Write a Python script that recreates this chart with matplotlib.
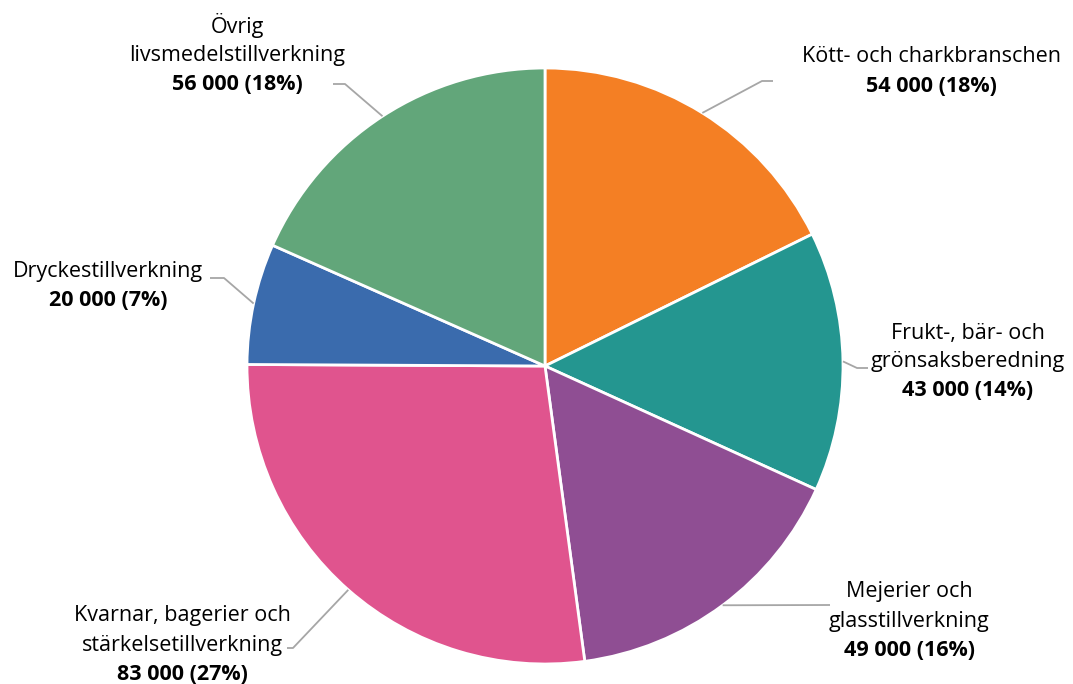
import numpy as np
import matplotlib.pyplot as plt

plt.rcParams['font.family'] = ['Open Sans', 'DejaVu Sans']

branscher = ['Kött- och charkbranschen', 'Frukt-, bär- och\ngrönsaksberedning',
             'Mejerier och\nglasstillverkning', 'Kvarnar, bagerier och\nstärkelsetillverkning',
             'Dryckestillverkning', 'Övrig\nlivsmedelstillverkning']
antal = [54000, 43000, 49000, 83000, 20000, 56000]
farger = ['#F47F24', '#249690', '#8F4E93', '#E0548E', '#3A6BAD', '#62A67A']

W, H = 1073, 684
fig = plt.figure(figsize=(W / 100, H / 100), dpi=100)
ax = fig.add_axes([0, 0, 1, 1])

cx, cy, r = 545, H - 366, 298
wedges, _ = ax.pie(antal, colors=farger, startangle=90, counterclock=False,
                   center=(cx, cy), radius=r, frame=True,
                   wedgeprops=dict(edgecolor='white', linewidth=2))
ax.set_xlim(0, W)
ax.set_ylim(0, H)
ax.set_aspect('equal')
ax.axis('off')

# etikettplacering: (x för textens mitt, y för fetstilsraden, knäpunkt, linjens slut-x)
etiketter = [
    (931, 86, (762, 81), 773),
    (968, 391, (857, 368), 868),
    (909, 650, (830, 605), 830),
    (182, 674, (293, 648), 287),
    (108, 300, (224, 278), 210),
    (237, 84, (345, 84), 333),
]
radavstand = 29

total = sum(antal)
for w, namn, v, (lx, ly, knä, slutx) in zip(wedges, branscher, antal, etiketter):
    mitt = np.deg2rad((w.theta1 + w.theta2) / 2)
    ex, ey = cx + r * np.cos(mitt), cy + r * np.sin(mitt)
    kx, ky = knä
    ax.plot([ex, kx, slutx], [ey, H - ky, H - ky], color='#A6A6A6', lw=1.3,
            solid_capstyle='butt')
    värde = f'{v:,}'.replace(',', ' ') + f' ({v / total:.0%})'
    ax.text(lx, H - ly, värde, ha='center', va='center', fontsize=15.5,
            fontweight='bold', color='black')
    for i, rad in enumerate(reversed(namn.split('\n')), start=1):
        ax.text(lx, H - ly + i * radavstand, rad, ha='center', va='center',
                fontsize=15.5, color='black')

fig.savefig('out.png', dpi=100)
